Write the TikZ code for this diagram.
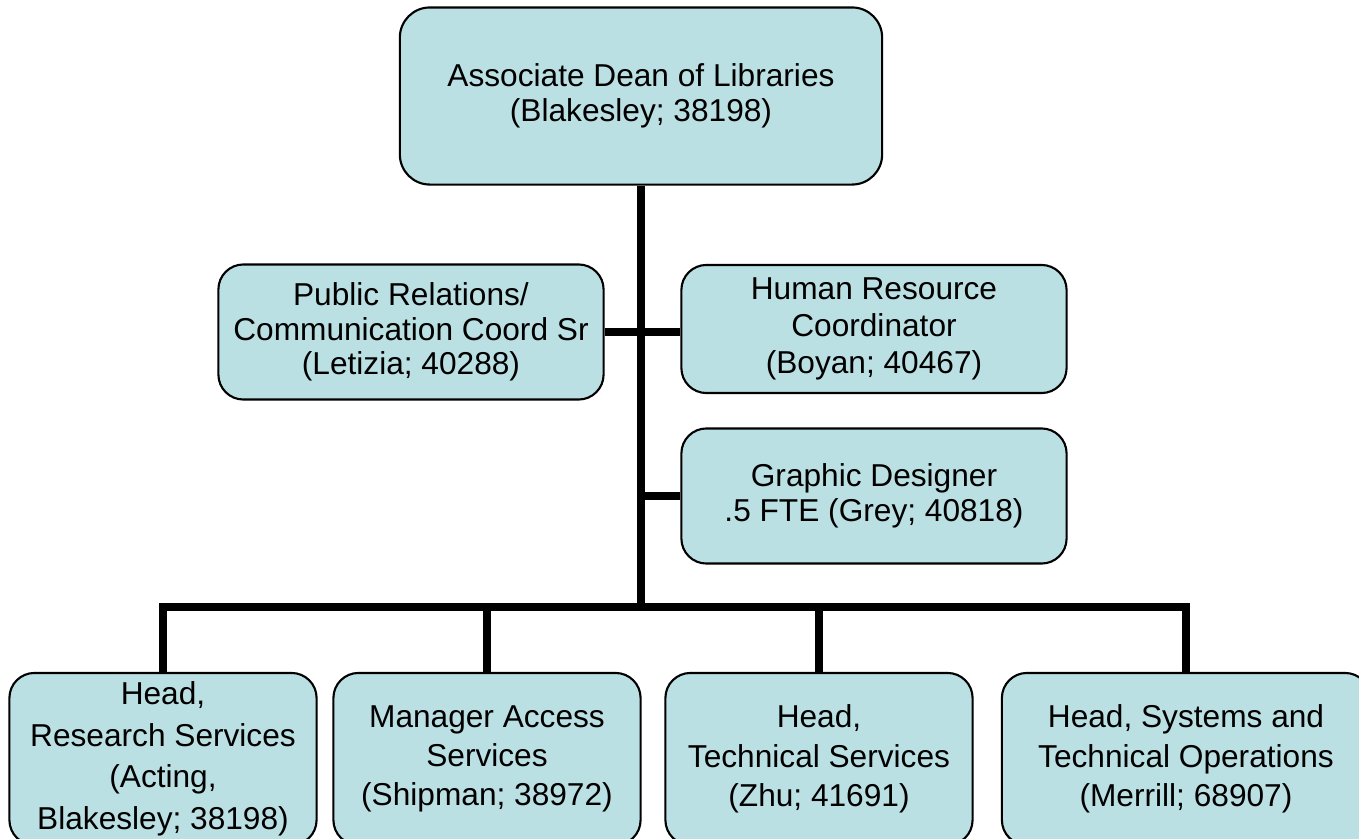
\documentclass[tikz,border=0pt]{standalone}
\usepackage{fontspec}
\setmainfont{Liberation Sans}
\usepackage{xcolor}
\usepackage{tikz}
\usetikzlibrary{calc}
\definecolor{boxblue}{RGB}{187,224,227}

\begin{document}
\begin{tikzpicture}[x=0.01cm,y=-0.01cm,
every node/.style={draw=black,line width=0.6pt,fill=boxblue,rounded corners=0.25cm,align=center,inner sep=0pt},
upper/.style={font=\fontsize{9}{9.8}\selectfont,minimum width=3.85cm,minimum height=1.33cm},
lower/.style={font=\fontsize{9}{11.2}\selectfont,minimum width=3.07cm,minimum height=1.72cm},
link/.style={line width=2pt}]
\useasboundingbox (0,0) rectangle (1359,839);
\node[font=\fontsize{9}{9.8}\selectfont,minimum width=4.82cm,minimum height=1.77cm,rounded corners=0.3cm] (dean) at (641,96) {Associate Dean of Libraries\\(Blakesley; 38198)};
\node[upper,minimum height=1.35cm] (pr) at (411,332) {Public Relations/\\Communication Coord Sr\\(Letizia; 40288)};
\node[upper,minimum height=1.28cm,font=\fontsize{9}{10.6}\selectfont] (hr) at (874,329) {Human Resource\\Coordinator\\(Boyan; 40467)};
\node[upper,minimum height=1.35cm] (gd) at (874,496) {Graphic Designer\\.5 FTE (Grey; 40818)};
\node[lower,font=\fontsize{9}{11.8}\selectfont] (rs) at (163,759) {Head,\\Research Services\\(Acting,\\Blakesley; 38198)};
\node[lower] (as) at (487,759) {Manager Access\\Services\\(Shipman; 38972)};
\node[lower] (ts) at (819,759) {Head,\\Technical Services\\(Zhu; 41691)};
\node[lower,minimum width=3.68cm] (st) at (1186,759) {Head, Systems and\\Technical Operations\\(Merrill; 68907)};
\coordinate (bus) at (641,607);
% trunk and side boxes
\draw[link] (dean.south) -- (bus);
\draw[link] (pr.east) -- (pr.east -| hr.west);
\draw[link] (gd.west) -- (gd.west -| dean.south);
% bottom row
\draw[link] (rs.north) -- (rs.north |- bus) -- (st.north |- bus) -- (st.north);
\draw[link] (as.north) -- (as.north |- bus);
\draw[link] (ts.north) -- (ts.north |- bus);
\end{tikzpicture}
\end{document}
